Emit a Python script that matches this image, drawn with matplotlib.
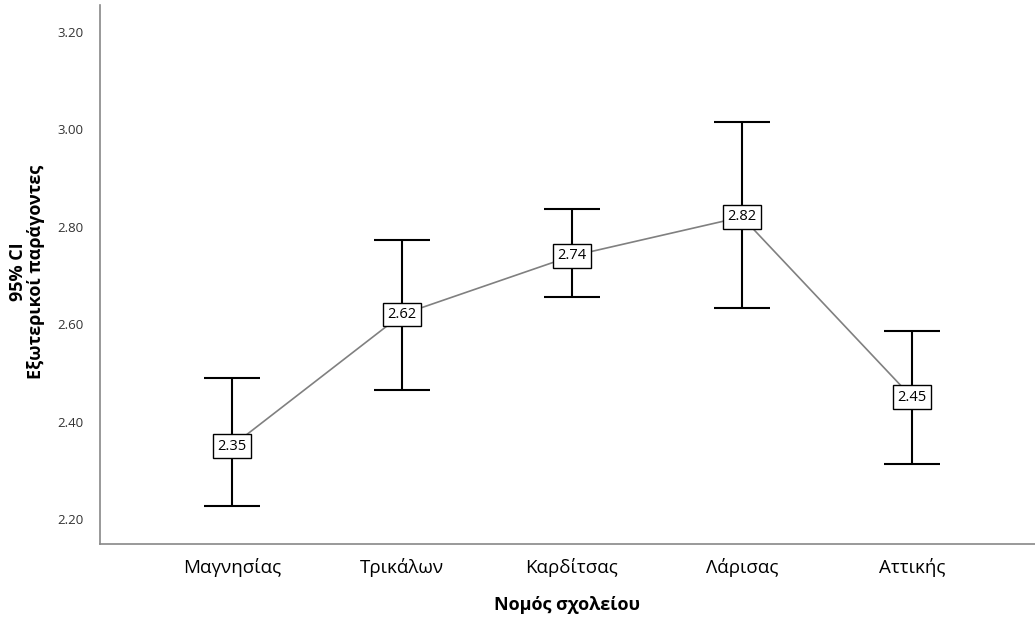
import matplotlib.pyplot as plt

plt.rcParams['font.family'] = ['Open Sans', 'DejaVu Sans']

regions = ["Μαγνησίας", "Τρικάλων", "Καρδίτσας", "Λάρισας", "Αττικής"]
means = [2.35, 2.62, 2.74, 2.82, 2.45]
ci_low = [2.227, 2.465, 2.655, 2.633, 2.313]
ci_high = [2.490, 2.773, 2.837, 3.015, 2.586]
y_ticks = [2.20, 2.40, 2.60, 2.80, 3.00, 3.20]

fig = plt.figure(figsize=(10.35, 6.17), dpi=100)
ax = fig.add_axes([0.0966, 0.1183, 0.9034, 0.8737])

x = list(range(len(regions)))
err = [[m - lo for m, lo in zip(means, ci_low)],
       [hi - m for m, hi in zip(means, ci_high)]]

ax.plot(x, means, color="#808080", lw=1.2, zorder=2)
ax.errorbar(x, means, yerr=err, fmt="none", ecolor="black", elinewidth=1.5,
            capsize=20, capthick=1.5, zorder=3)
for xi, m in zip(x, means):
    ax.text(xi, m, f"{m:.2f}", ha="center", va="center", fontsize=10.5, zorder=4,
            bbox=dict(boxstyle="square,pad=0.3", fc="white", ec="black", lw=1))

ax.set_xlim(-0.776, 4.724)
ax.set_ylim(2.149, 3.255)
ax.set_xticks(x)
ax.set_xticklabels(regions, fontsize=13.5)
ax.set_yticks(y_ticks)
ax.set_yticklabels([f"{t:.2f}" for t in y_ticks], fontsize=9.5, color="#333333")
ax.tick_params(length=0, pad=12)
ax.tick_params(axis="x", pad=10)

for s in ["top", "right"]:
    ax.spines[s].set_visible(False)
for s in ["left", "bottom"]:
    ax.spines[s].set_color("#888888")
    ax.spines[s].set_linewidth(1.2)

ax.set_xlabel("Νομός σχολείου", fontsize=13, fontweight="bold", labelpad=14)
fig.text(27 / 1035, 1 - 272 / 617, "95% CI\nΕξωτερικοί παράγοντες", fontsize=13,
         fontweight="bold", rotation=90, ha="center", va="center",
         linespacing=1.0, multialignment="center")

fig.savefig("out.png", dpi=100)
